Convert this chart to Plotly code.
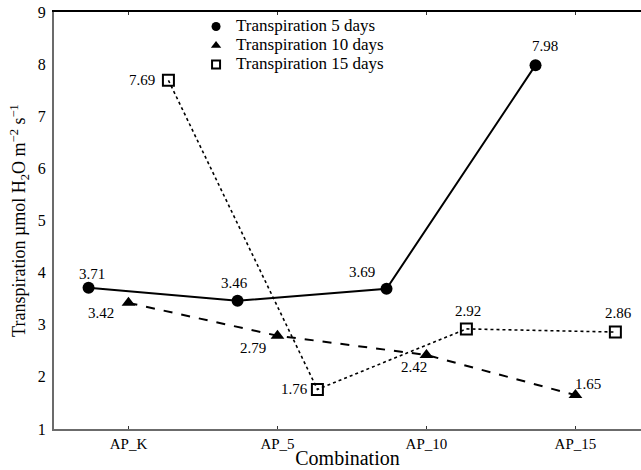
import plotly.graph_objects as go

categories = ["AP_K", "AP_5", "AP_10", "AP_15"]
series_names = ["Transpiration 5 days", "Transpiration 10 days", "Transpiration 15 days"]
values_5d = [3.71, 3.46, 3.69, 7.98]
values_10d = [3.42, 2.79, 2.42, 1.65]
values_15d = [7.69, 1.76, 2.92, 2.86]
y_ticks = [1, 2, 3, 4, 5, 6, 7, 8, 9]

FONT = "Liberation Serif"
series = [values_5d, values_10d, values_15d]
dodge = [-0.268, 0.0, 0.268]
styles = [
    dict(dash="solid", width=2, symbol="circle", size=12, mline=0),
    dict(dash="dash", width=2, symbol="triangle-up", size=12, mline=0),
    dict(dash="dot", width=1.6, symbol="square-open", size=11, mline=2),
]
# label pixel offsets (dx right, dy down)
label_offsets = [
    [(3, -14), (-3, -18), (-25, -17), (9, -19)],
    [(-27, 10), (-24, 12), (-12, 12), (13, -11)],
    [(-26, 0), (-23, 0), (2, -18), (3, -19)],
]

fig = go.Figure()
annotations = []
for name, vals, off, st, offs in zip(series_names, series, dodge, styles, label_offsets):
    xs = [i + off for i in range(len(categories))]
    fig.add_trace(go.Scatter(
        x=xs, y=vals, mode="lines+markers", showlegend=False,
        line=dict(color="black", dash=st["dash"], width=st["width"]),
        marker=dict(symbol=st["symbol"], size=st["size"], color="black",
                    line=dict(color="black", width=st["mline"])),
    ))
    fig.add_trace(go.Scatter(
        x=[None], y=[None], mode="markers",
        name=f'<span style="font-size:17px">{name}</span>',
        marker=dict(symbol=st["symbol"], size=st["size"] - 3, color="black",
                    line=dict(color="black", width=st["mline"])),
    ))
    for x, v, (dx, dy) in zip(xs, vals, offs):
        annotations.append(dict(
            x=x, y=v, xref="x", yref="y", text=f"{v:.2f}", showarrow=False,
            xshift=dx, yshift=-dy, font=dict(family=FONT, size=15, color="black"),
        ))

# dummy trace for the top axis
fig.add_trace(go.Scatter(x=[None], y=[None], xaxis="x2", showlegend=False))

fig.update_layout(
    width=641, height=470,
    margin=dict(l=54, r=0, t=12, b=41),
    plot_bgcolor="white", paper_bgcolor="white",
    font=dict(family=FONT, size=15, color="black"),
    annotations=annotations,
    xaxis=dict(
        range=[-0.5, 3.44],
        tickmode="array", tickvals=list(range(len(categories))), ticktext=categories,
        showline=True, linecolor="#6b6b6b", linewidth=2,
        ticks="inside", ticklen=3, tickcolor="#333", showgrid=False, zeroline=False,
        tickfont=dict(family=FONT, size=15),
        title=dict(text="Combination", font=dict(family=FONT, size=20), standoff=0),
    ),
    xaxis2=dict(
        overlaying="x", side="top", matches="x", range=[-0.5, 3.44],
        tickmode="array", tickvals=list(range(len(categories))),
        showticklabels=False, showline=True, linecolor="black", linewidth=2,
        ticks="inside", ticklen=3, tickcolor="#333", showgrid=False, zeroline=False,
    ),
    yaxis=dict(
        range=[1, 9], tickmode="array", tickvals=y_ticks,
        showline=True, linecolor="#6b6b6b", linewidth=2,
        ticks="", showgrid=False, zeroline=False,
        tickfont=dict(family=FONT, size=16), ticklabelstandoff=3,
        title=dict(text="Transpiration µmol H<sub>2</sub>O m<sup>−2</sup> s<sup>−1</sup>",
                   font=dict(family=FONT, size=18), standoff=7),
    ),
    legend=dict(
        x=0.242, y=1.0, xanchor="left", yanchor="top",
        bgcolor="rgba(0,0,0,0)", font=dict(family=FONT, size=12),
        itemwidth=30, tracegroupgap=0,
    ),
)

fig.write_html("out.html")
